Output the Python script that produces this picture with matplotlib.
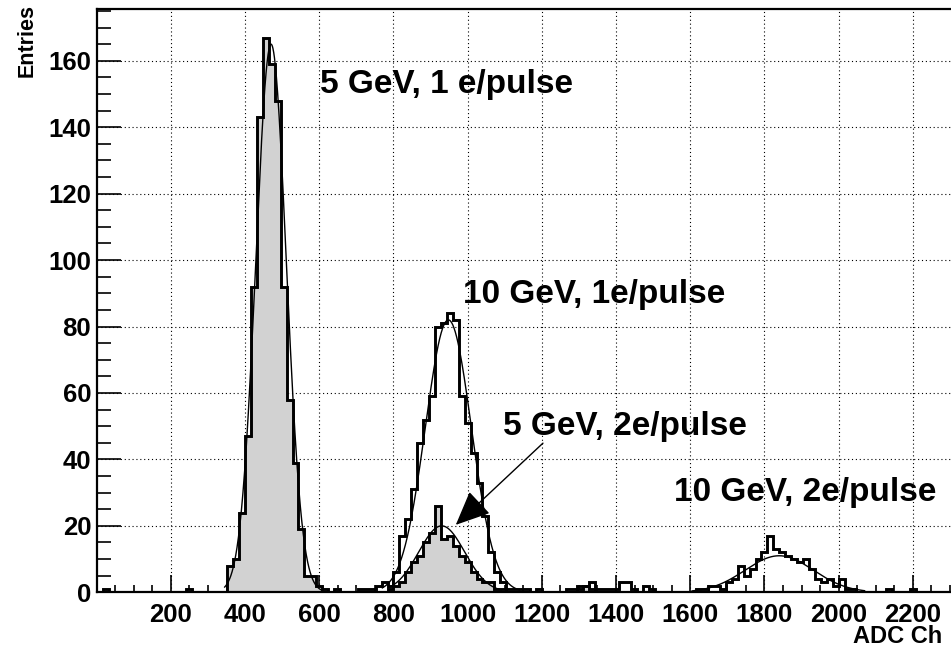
import numpy as np
import matplotlib
matplotlib.use("Agg")
import matplotlib.pyplot as plt
from matplotlib.ticker import MultipleLocator

plt.rcParams['font.family'] = ['Liberation Sans', 'DejaVu Sans']
plt.rcParams['font.weight'] = 'bold'

# histogram bins: width 16 ADC channels, 0..2400
bin_width = 16
n_bins = 150

# 5 GeV, 1 e/pulse (grey filled)
e5_1e_edges = [16, 240, 352, 368, 384, 400, 416, 432, 448, 464, 480, 496, 512, 528,
               544, 560, 576, 592, 608, 640]
e5_1e_counts = [1, 1, 8, 10, 24, 47, 92, 143, 167, 159, 148, 92, 58, 39,
                19, 5, 5, 2, 1, 1]

# 10 GeV, 1 e/pulse (open)
e10_1e_edges = [704, 720, 736, 752, 768, 784, 800, 816, 832, 848, 864, 880, 896, 912,
                928, 944, 960, 976, 992, 1008, 1024, 1040, 1056, 1072, 1088, 1104,
                1120, 1136, 1152, 1184, 1264, 1280, 1296, 1312, 1328, 1344, 1360,
                1376, 1392, 1408, 1424, 1440, 1472, 1488]
e10_1e_counts = [1, 1, 1, 2, 3, 2, 6, 17, 22, 31, 45, 52, 59, 80,
                 81, 84, 82, 59, 51, 42, 33, 23, 12, 6, 3, 1,
                 1, 1, 1, 1, 1, 1, 2, 2, 3, 1, 1,
                 1, 1, 3, 3, 1, 2, 1]

# 5 GeV, 2 e/pulse (grey filled)
e5_2e_edges = [784, 800, 816, 832, 848, 864, 880, 896, 912, 928, 944, 960, 976, 992,
               1008, 1024, 1040, 1056, 1072, 1088, 1296, 1312, 1328]
e5_2e_counts = [1, 2, 3, 6, 9, 11, 15, 18, 26, 16, 17, 14, 11, 9,
                6, 4, 3, 3, 1, 1, 1, 2, 1]

# 10 GeV, 2 e/pulse (open)
e10_2e_edges = [1616, 1632, 1648, 1664, 1680, 1696, 1712, 1728, 1744, 1760, 1776,
                1792, 1808, 1824, 1840, 1856, 1872, 1888, 1904, 1920, 1936, 1952,
                1968, 1984, 2000, 2016, 2032, 2128, 2192]
e10_2e_counts = [1, 1, 2, 2, 1, 3, 4, 8, 5, 7, 10,
                 12, 17, 13, 12, 11, 10, 9, 10, 7, 4, 3,
                 4, 2, 4, 1, 1, 1, 1]

# gaussian fits: amplitude, mean, sigma, fit range
fit_amp = [165, 82, 20, 11]
fit_mean = [470, 948, 930, 1840]
fit_sigma = [41, 62, 62, 92]
fit_lo = [345, 770, 785, 1605]
fit_hi = [610, 1140, 1090, 2070]

labels = ['5 GeV, 1 e/pulse', '10 GeV, 1e/pulse', '5 GeV, 2e/pulse', '10 GeV, 2e/pulse']
label_x = [603, 988, 1096, 1556]
label_y = [152.8, 89.5, 49.8, 29.9]


def full_hist(edges, counts):
    h = np.zeros(n_bins)
    for e, c in zip(edges, counts):
        h[int(e // bin_width)] = c
    return h


edges = np.arange(n_bins + 1) * bin_width

fig = plt.figure(figsize=(9.51, 6.49), dpi=100)
ax = fig.add_axes([96.7 / 951, 1 - 592.3 / 649, 1 - 96.7 / 951, (592.3 - 9.3) / 649])

grey = '#d2d2d2'
for ed, ct, filled in [(e5_1e_edges, e5_1e_counts, True),
                       (e10_1e_edges, e10_1e_counts, False),
                       (e5_2e_edges, e5_2e_counts, True),
                       (e10_2e_edges, e10_2e_counts, False)]:
    h = full_hist(ed, ct)
    if filled:
        ax.stairs(h, edges, fill=True, color=grey, zorder=2)
    ax.stairs(h, edges, color='black', linewidth=2.1, zorder=3)

for a, m, s, lo, hi in zip(fit_amp, fit_mean, fit_sigma, fit_lo, fit_hi):
    xx = np.linspace(lo, hi, 400)
    ax.plot(xx, a * np.exp(-0.5 * ((xx - m) / s) ** 2), color='black', lw=1.0, zorder=4)

for t, x, y in zip(labels, label_x, label_y):
    ax.text(x, y, t, fontsize=24, fontweight='bold', ha='left', va='center', zorder=5)

ax.annotate('', xy=(968, 20.3), xytext=(1203, 44.9),
            arrowprops=dict(arrowstyle='-|>,head_length=0.45,head_width=0.2',
                            mutation_scale=48, lw=1.0, color='black',
                            shrinkA=0, shrinkB=0), zorder=5)

ax.set_xlim(0, 2303)
ax.set_ylim(0, 175.5)
ax.set_xticks(np.arange(200, 2201, 200))
ax.set_yticks(np.arange(0, 161, 20))
ax.xaxis.set_minor_locator(MultipleLocator(50))
ax.yaxis.set_minor_locator(MultipleLocator(5))
ax.tick_params(axis='both', which='both', direction='in', labelsize=18.5, width=1.2)
ax.tick_params(axis='y', which='major', length=17, pad=4)
ax.tick_params(axis='y', which='minor', length=10)
ax.tick_params(axis='x', which='major', length=12, pad=8)
ax.tick_params(axis='x', which='minor', length=5)
for lab in ax.get_xticklabels() + ax.get_yticklabels():
    lab.set_fontweight('bold')

ax.grid(True, which='major', color='black', linestyle=(0, (1, 2.5)), linewidth=0.8, zorder=0)
ax.set_axisbelow(True)
ax.spines['right'].set_visible(False)
for sp in ['left', 'bottom', 'top']:
    ax.spines[sp].set_linewidth(1.6)

fig.text(27 / 951, 1 - 4 / 649, 'Entries', rotation=90, fontsize=15.5, fontweight='bold',
         ha='center', va='top')
fig.text(942 / 951, 1 - 625 / 649, 'ADC Ch', fontsize=17, fontweight='bold',
         ha='right', va='top')

fig.savefig('out.png', dpi=100)
